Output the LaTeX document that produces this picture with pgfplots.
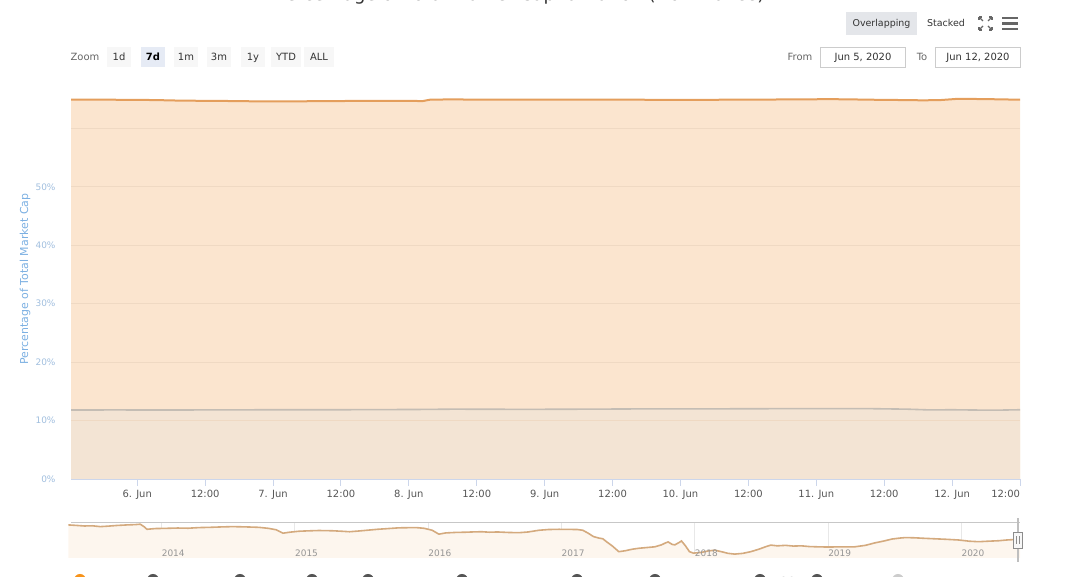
\documentclass[border=0pt]{standalone}
\usepackage{pgfplots}
\pgfplotsset{compat=1.18}
\usepackage{fontspec}
\setmainfont{DejaVu Sans}
\definecolor{btcfill}{RGB}{251,229,207}
\definecolor{othfill}{RGB}{243,228,212}
\definecolor{btcline}{RGB}{228,158,92}
\definecolor{othline}{RGB}{196,189,180}
\definecolor{gridc}{RGB}{239,217,195}
\definecolor{axc}{RGB}{204,214,235}
\definecolor{ylab}{RGB}{124,176,226}
\definecolor{ytl}{RGB}{160,190,222}
\definecolor{xtl}{RGB}{85,85,85}
\definecolor{navline}{RGB}{212,170,126}
\definecolor{navfill}{RGB}{253,246,238}
\definecolor{navgrid}{RGB}{232,232,232}
\definecolor{navlab}{RGB}{150,150,150}
\definecolor{btnbg}{RGB}{247,247,247}
\definecolor{btnsel}{RGB}{230,235,245}
\definecolor{btngray}{RGB}{228,230,234}
\definecolor{txt}{RGB}{51,51,51}
\definecolor{txtl}{RGB}{102,102,102}
\definecolor{btcdot}{RGB}{247,147,26}
\definecolor{legdot}{RGB}{85,85,85}
\definecolor{legblue}{RGB}{51,102,204}

\pgfplotstableread{
h v
-11.7 64.90
-6 64.92
-2 64.88
3 64.85
7.1 64.76
11 64.72
14.7 64.70
18 64.66
21.7 64.62
25 64.63
27.6 64.62
31 64.65
35.9 64.68
40 64.70
45.2 64.70
48 64.69
50.5 64.68
51.8 64.92
55 64.95
60.6 64.93
66 64.92
74.8 64.90
82 64.92
88.9 64.90
96 64.88
103.6 64.90
110 64.93
115.4 64.95
122.5 65.00
126 64.96
130 64.90
134 64.86
138.9 64.80
141.9 64.84
144.9 65.05
148 65.03
150.7 65.00
153 64.95
156 64.92
}\btc

\pgfplotstableread{
h v
-11.7 11.80
-4 11.82
4 11.80
12 11.82
20 11.84
30 11.85
40 11.86
50 11.90
56 11.95
62 11.93
70 11.92
80 11.95
90 12.00
100 12.00
108 12.02
116 12.04
124 12.04
130 12.03
136 11.95
140 11.82
144 11.85
148 11.80
152 11.78
156 11.85
}\oth

\pgfplotstableread{
t v
2013.30 95.0
2013.36 94.0
2013.42 92.8
2013.48 93.2
2013.54 91.5
2013.60 92.5
2013.66 93.8
2013.74 95.0
2013.80 95.6
2013.84 96.5
2013.87 91.0
2013.89 86.0
2013.95 87.5
2014.04 88.0
2014.12 88.6
2014.20 88.2
2014.28 89.5
2014.36 90.0
2014.44 90.8
2014.53 91.5
2014.62 91.0
2014.68 90.5
2014.73 90.0
2014.80 88.0
2014.86 85.0
2014.91 78.0
2014.96 80.0
2015.03 82.0
2015.10 82.8
2015.18 83.5
2015.28 83.0
2015.35 82.0
2015.41 81.0
2015.48 82.5
2015.54 84.0
2015.62 86.0
2015.70 87.5
2015.78 89.0
2015.85 89.3
2015.91 89.5
2015.97 88.0
2016.03 84.0
2016.08 76.0
2016.13 78.5
2016.20 79.5
2016.28 80.0
2016.34 80.6
2016.40 81.0
2016.46 80.0
2016.52 80.5
2016.60 79.5
2016.68 79.0
2016.75 80.5
2016.83 84.0
2016.90 85.5
2016.98 86.0
2017.06 85.8
2017.12 85.5
2017.16 84.0
2017.20 78.0
2017.24 71.0
2017.28 68.0
2017.31 66.5
2017.34 60.0
2017.38 52.0
2017.43 40.0
2017.48 42.0
2017.53 45.0
2017.58 47.0
2017.64 48.5
2017.70 50.0
2017.75 54.0
2017.78 58.0
2017.80 60.0
2017.83 55.0
2017.85 54.0
2017.88 58.5
2017.90 62.0
2017.93 52.0
2017.96 40.0
2017.99 37.0
2018.05 38.5
2018.10 41.5
2018.15 43.0
2018.20 40.0
2018.25 36.5
2018.30 35.0
2018.36 36.5
2018.42 40.0
2018.48 45.0
2018.53 50.0
2018.57 53.5
2018.62 52.0
2018.68 53.0
2018.74 51.5
2018.80 52.0
2018.86 50.5
2018.92 50.0
2019.00 49.5
2019.10 50.0
2019.20 50.0
2019.28 53.0
2019.35 58.0
2019.42 62.0
2019.48 66.0
2019.54 68.0
2019.58 69.0
2019.65 68.5
2019.72 67.5
2019.80 66.5
2019.88 65.5
2019.98 64.0
2020.06 61.5
2020.13 60.5
2020.20 61.5
2020.28 62.5
2020.34 64.0
2020.40 65.0
2020.44 65.0
}\nav

\begin{document}
\begin{tikzpicture}[x=1bp,y=1bp]
\useasboundingbox (0,0) rectangle (1080,577);
\clip (0,0) rectangle (1080,577);

% title (cut at top)
\node[anchor=base, text=txt, font=\fontsize{18}{20}\selectfont, inner sep=0] at (520,576) {Percentage of Total Market Capitalization (Dominance)};

% top right buttons
\fill[btngray] (846,542) rectangle (917,565);
\node[anchor=base, text=txt, font=\fontsize{9.5}{11}\selectfont, inner sep=0] at (881.5,550.5) {Overlapping};
\node[anchor=base, text=txt, font=\fontsize{9.5}{11}\selectfont, inner sep=0] at (946,550.5) {Stacked};
\begin{scope}[draw=txtl, line width=1.1bp]
 \draw (979,560) -- (983,556); \draw (979,560) -- (982,560); \draw (979,560) -- (979,557);
 \draw (992,560) -- (988,556); \draw (992,560) -- (989,560); \draw (992,560) -- (992,557);
 \draw (979,547) -- (983,551); \draw (979,547) -- (982,547); \draw (979,547) -- (979,550);
 \draw (992,547) -- (988,551); \draw (992,547) -- (989,547); \draw (992,547) -- (992,550);
\end{scope}
\begin{scope}[draw=txtl, line width=2.6bp]
 \draw (1002,559) -- (1018,559);
 \draw (1002,553.5) -- (1018,553.5);
 \draw (1002,548) -- (1018,548);
\end{scope}

% range selector
\node[anchor=base, text=txtl, font=\fontsize{10}{12}\selectfont, inner sep=0] at (85,516) {Zoom};
\foreach \cx/\w/\lab in {119/24/1d,186/24/1m,219/24/3m,253/24/1y,286/30/YTD,319/30/ALL}{
  \fill[btnbg] (\cx-\w/2,510) rectangle (\cx+\w/2,530);
  \node[anchor=base, text=txt, font=\fontsize{10}{12}\selectfont, inner sep=0] at (\cx,516.5) {\lab};
}
\fill[btnsel] (141,510) rectangle (165,530);
\node[anchor=base, text=black, font=\fontsize{10}{12}\selectfont\bfseries, inner sep=0] at (153,516.5) {7d};
\node[anchor=base, text=txtl, font=\fontsize{10}{12}\selectfont, inner sep=0] at (800,516.5) {From};
\draw[draw=black!20, fill=white] (820.5,509.5) rectangle (905.5,529.5);
\node[anchor=base, text=txt, font=\fontsize{10}{12}\selectfont, inner sep=0] at (863,516.5) {Jun 5, 2020};
\node[anchor=base, text=txtl, font=\fontsize{10}{12}\selectfont, inner sep=0] at (922,516.5) {To};
\draw[draw=black!20, fill=white] (935.5,509.5) rectangle (1020.5,529.5);
\node[anchor=base, text=txt, font=\fontsize{10}{12}\selectfont, inner sep=0] at (978,516.5) {Jun 12, 2020};

% y label
\node[rotate=90, text=ylab, font=\fontsize{11}{13}\selectfont] at (25,298) {Percentage of Total Market Cap};

% main chart
\begin{axis}[
  at={(71bp,98bp)}, anchor=south west, scale only axis,
  width=949bp, height=381bp,
  xmin=-11.7, xmax=156, ymin=0, ymax=65.2,
  axis on top,
  separate axis lines,
  axis x line*=bottom, axis y line*=left,
  x axis line style={draw=axc, line width=0.9bp, -},
  y axis line style={draw=none},
  xtick={0,12,...,156},
  xticklabels={6. Jun,12:00,7. Jun,12:00,8. Jun,12:00,9. Jun,12:00,10. Jun,12:00,11. Jun,12:00,12. Jun,\makebox[0pt][r]{12:00}},
  ytick={0,10,...,60},
  yticklabels={0\%,10\%,20\%,30\%,40\%,50\%,{}},
  ymajorgrids, grid style={draw=gridc, line width=0.9bp},
  tick align=outside, major tick length=7bp,
  major x tick style={draw=axc, line width=0.9bp},
  major y tick style={draw=none},
  xticklabel style={text=xtl, font=\fontsize{10}{12}\selectfont, yshift=-1bp},
  yticklabel style={text=ytl, font=\fontsize{9}{11}\selectfont, xshift=-5bp},
]
\addplot[draw=none, fill=btcfill] table[x=h,y=v]{\btc} \closedcycle;
\addplot[draw=none, fill=othfill] table[x=h,y=v]{\oth} \closedcycle;
\addplot[othline, line width=1.6bp] table[x=h,y=v]{\oth};
\addplot[btcline, line width=2bp] table[x=h,y=v]{\btc};
\end{axis}

% navigator
\begin{axis}[
  at={(71bp,19bp)}, anchor=south west, scale only axis,
  width=949bp, height=36bp,
  xmin=2013.32, xmax=2020.44, ymin=27, ymax=101,
  axis line style={draw=none},
  xtick={2014,...,2020}, xticklabels={},
  ytick=\empty,
  xmajorgrids, grid style={draw=navgrid, line width=0.8bp},
  major x tick style={draw=none},
  clip=false,
]
\addplot[draw=none, fill=navfill] table[x=t,y=v]{\nav} \closedcycle;
\addplot[navline, line width=1.6bp] table[x=t,y=v]{\nav};
\foreach \yr in {2014,...,2020}{
  \edef\tmp{\noexpand\node[anchor=base west, text=navlab, font=\noexpand\fontsize{9}{11}\noexpand\selectfont, inner sep=0] at (axis cs:\yr,30) {\yr};}
  \tmp
}
\end{axis}
\draw[draw=black!22, line width=0.8bp] (71,55) -- (1020,55);
\draw[draw=black!25, line width=1.5bp] (1018,15) -- (1018,59);
\draw[draw=black!45, fill=btnbg, line width=0.8bp] (1013.5,29) rectangle (1022.5,45);
\draw[draw=black!45, line width=0.7bp] (1016.8,33) -- (1016.8,41) (1019.2,33) -- (1019.2,41);

% legend (cut at bottom)
\fill[btcdot] (80,-3) circle (6);
\node[anchor=west, text=legblue, font=\fontsize{11}{13}\selectfont] at (89,-5) {Bitcoin};
\foreach \cx/\lab in {153/Ethereum,240/Tether,312/XRP,368/Bitcoin Cash,462/Bitcoin SV,577/Litecoin,655/Binance Coin,760/EOS,817/Cardano}{
  \fill[legdot] (\cx,-3) circle (6);
  \node[anchor=west, text=txt, font=\fontsize{11}{13}\selectfont] at (\cx+9,-5) {\lab};
}
\fill[black!20] (898,-3) circle (6);
\node[anchor=west, text=legblue!60, font=\fontsize{11}{13}\selectfont] at (907,-5) {Others};
\end{tikzpicture}
\end{document}
